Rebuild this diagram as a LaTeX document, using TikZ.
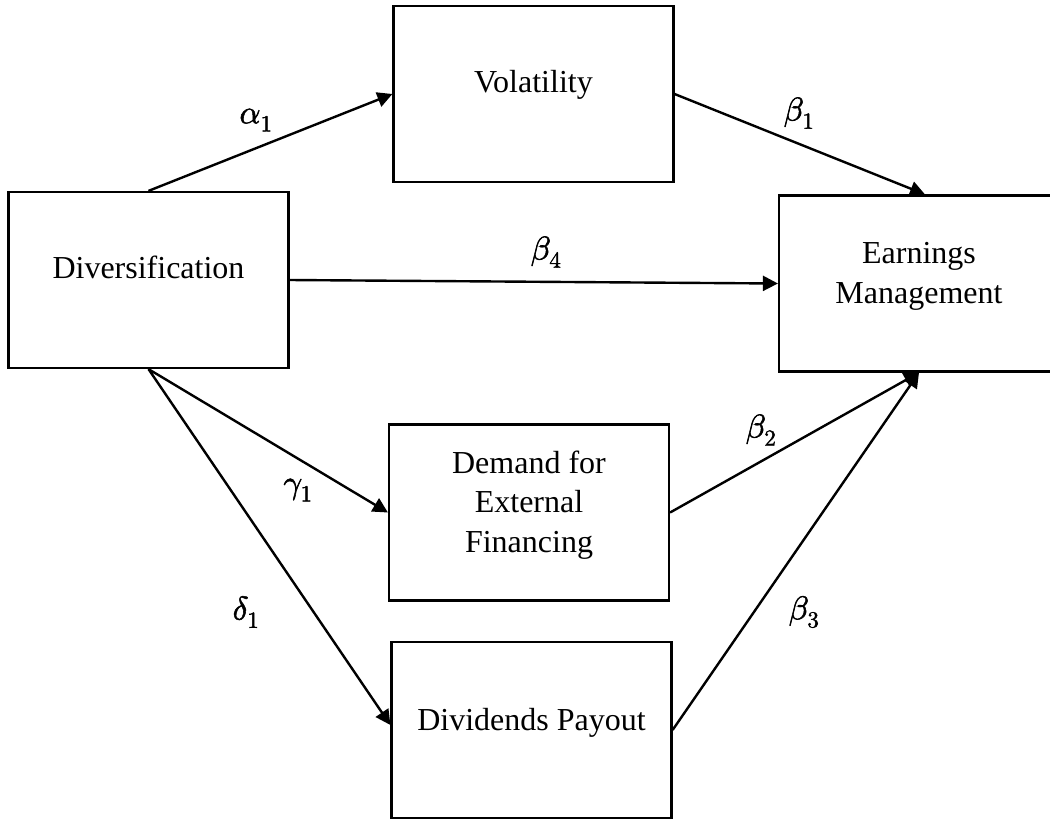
\documentclass[tikz,border=0pt]{standalone}
\usepackage{fontspec}
\usepackage{unicode-math}
\setmainfont{Liberation Serif}
\setmathfont{Latin Modern Math}[FakeBold=1.6]
\usetikzlibrary{arrows.meta}
\tikzset{
  block/.style={draw, line width=2.2pt, minimum width=280pt, minimum height=176pt, inner sep=0pt},
  txt/.style={anchor=base, inner sep=0pt, font=\fontsize{32}{40}\selectfont},
  coef/.style={inner sep=0pt, font=\fontsize{33}{38}\selectfont},
  link/.style={line width=2.4pt, -{Triangle[length=15pt,width=15pt]}}
}
\begin{document}
\begin{tikzpicture}[x=1pt,y=-1pt]
\clip (0,0) rectangle (1050,820);
\fill[white] (0,0) rectangle (1050,820);

% boxes
\node[block] (vol)  at (533.5,94)  {};
\node[block] (div)  at (148.5,280) {};
\node[block] (earn) at (919,283.5) {};
\node[block] (dem)  at (529,512.5) {};
\node[block] (dvd)  at (531.5,730) {};

% box texts
\node[txt] (vol-t)  at (533.5,92) {Volatility};
\node[txt] (div-t)  at (148.5,278) {Diversification};
\node[txt] (earn-t1) at (919,263) {Earnings};
\node[txt] (earn-t2) at (919,303) {Management};
\node[txt] (dem-t1) at (529,473) {Demand for};
\node[txt] (dem-t2) at (529,512) {External};
\node[txt] (dem-t3) at (529,552) {Financing};
\node[txt] (dvd-t)  at (531.5,730) {Dividends Payout};

% paths
\draw[link] (div.north) -- (vol.west);
\draw[link] (vol.east) -- ([xshift=6pt]earn.north);
\draw[link] (div.east) -- (earn.west);
\draw[link] (div.south) -- (dem.west);
\draw[link] (div.south) -- ([yshift=5pt]dvd.west);
\draw[link] (dem.east) -- (earn.south);
\draw[link] (dvd.east) -- (earn.south);

% coefficients
\node[coef] (a1) at (256,120) {$\alpha_1$};
\node[coef] (b1) at (799,113) {$\beta_1$};
\node[coef] (b4) at (546,252) {$\beta_4$};
\node[coef] (g1) at (298,490) {$\gamma_1$};
\node[coef] (d1) at (246,612) {$\delta_1$};
\node[coef] (b2) at (761,430) {$\beta_2$};
\node[coef] (b3) at (804,612) {$\beta_3$};
\end{tikzpicture}
\end{document}
